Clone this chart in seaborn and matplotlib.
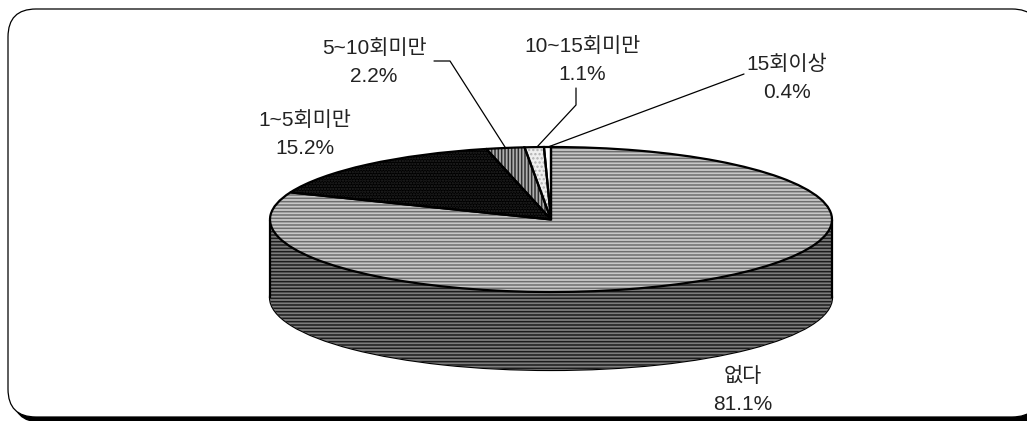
import matplotlib
matplotlib.use("Agg")
import matplotlib.pyplot as plt
from matplotlib.patches import FancyBboxPatch, Rectangle
import seaborn as sns

categories = ["없다", "1~5회미만", "5~10회미만", "10~15회미만", "15회이상"]
shares = [81.1, 15.2, 2.2, 1.1, 0.4]

sns.set_theme(style="white")
plt.rcParams["font.family"] = ["Liberation Sans", "Noto Sans CJK KR", "DejaVu Sans"]
plt.rcParams["hatch.linewidth"] = 1.1

W, H = 1027, 421
fig = plt.figure(figsize=(W / 100, H / 100), dpi=100, facecolor="white")

# Page-sized layer holding the frame, labels and leader lines
bg = fig.add_axes([0, 0, 1, 1])
bg.set_xlim(0, W)
bg.set_ylim(H, 0)
bg.axis("off")
shadow = FancyBboxPatch((13, 13), 1032, 409, boxstyle="round,pad=0,rounding_size=28",
                        fc="black", ec="black", lw=1)
frame = FancyBboxPatch((8, 9), 1032, 408, boxstyle="round,pad=0,rounding_size=28",
                       fc="white", ec="black", lw=0.9)
bg.add_patch(shadow)
bg.add_patch(frame)

# Pie layer: the axes box is exactly the squashed top ellipse
ax = fig.add_axes([270 / W, 1 - 292 / H, 562 / W, 145 / H])
ax.patch.set_alpha(0)

depth = 2 * 78 / 145
wall_face, wall_hatch = "#7c7c7c", "#1c1c1c"

# Wall: a lower whole disc plus a band up to the top disc
low, _ = ax.pie([sum(shares)], center=(0, -depth), radius=1, frame=False,
                colors=[wall_face], wedgeprops=dict(edgecolor="black", linewidth=1.6))
for w in low:
    w.set_zorder(1)
    w.set_clip_on(False)
band = Rectangle((-1, -depth), 2, depth, fc=wall_face, ec=wall_hatch, lw=0,
                 hatch="-----", zorder=2, clip_on=False)
ax.add_patch(band)
low_h, _ = ax.pie([sum(shares)], center=(0, -depth), radius=1, frame=False,
                  colors=[wall_face],
                  wedgeprops=dict(edgecolor=wall_hatch, linewidth=0, hatch="-----"))
for w in low_h:
    w.set_zorder(1.5)
    w.set_clip_on(False)
ax.vlines([-1, 1], -depth, 0, color="black", lw=1.6, zorder=3, clip_on=False)

# Top face
faces = ["#c8c8c8", "#000000", "#b0b0b0", "#efefef", "#ffffff"]
hatch_cols = ["#6e6e6e", "#262626", "#303030", "#b0b0b0", "#ffffff"]
hatches = ["-----", "......", "|||||", "....", ""]
tops, _ = ax.pie(shares, startangle=90, counterclock=False, radius=1, colors=faces,
                 frame=False, wedgeprops=dict(linewidth=0))
for w, c, h in zip(tops, hatch_cols, hatches):
    w.set_edgecolor(c)
    w.set_hatch(h)
    w.set_zorder(4)
    w.set_clip_on(False)
lines, _ = ax.pie(shares, startangle=90, counterclock=False, radius=1, frame=False,
                  wedgeprops=dict(fill=False, edgecolor="black", linewidth=1.6))
for w in lines:
    w.set_zorder(5)
    w.set_clip_on(False)
ax.set_aspect("auto")
ax.set_xlim(-1, 1)
ax.set_ylim(-1, 1)
ax.axis("off")

# Labels
label_xy = [(743, 390), (305, 135), (374, 63), (582, 61), (787, 78)]
for name, val, (x, y) in zip(categories, shares, label_xy):
    bg.text(x, y, f"{name}\n{val}%", ha="center", va="center", fontsize=15,
            color="#222222", linespacing=1.6)

# Leader lines
leaders = [([434, 450, 505], [61, 61, 147]),
           ([576, 576, 537], [88, 105, 147]),
           ([744, 548], [74, 147])]
for xs, ys in leaders:
    bg.plot(xs, ys, color="black", lw=0.9)

fig.savefig("out.png", dpi=100)
